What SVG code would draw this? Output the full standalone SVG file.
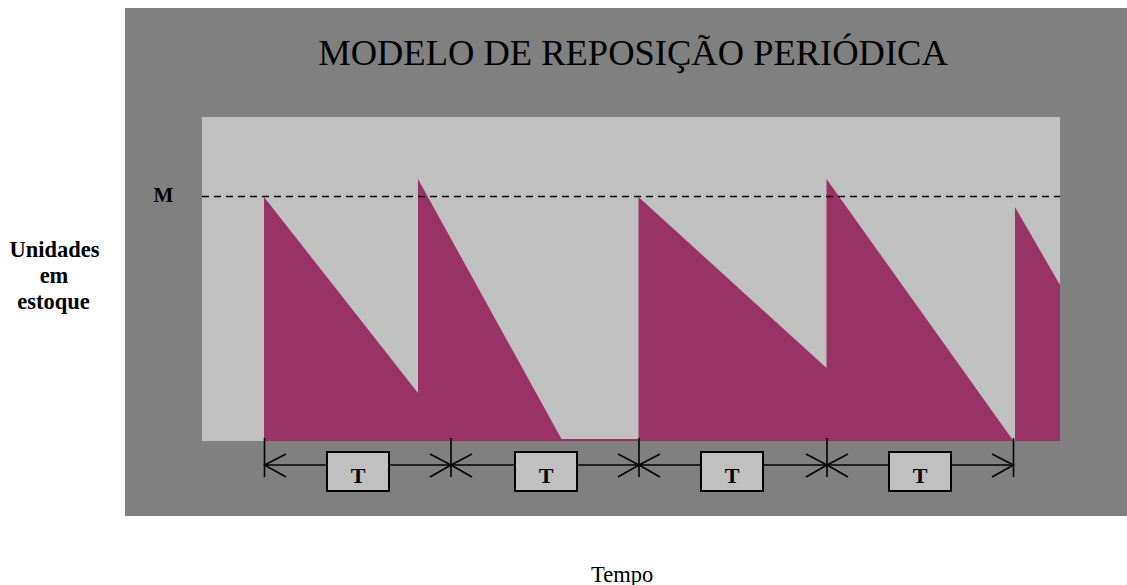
<svg xmlns="http://www.w3.org/2000/svg" width="1127" height="585" viewBox="0 0 1127 585">
<style>
.serif{font-family:"Liberation Serif","Times New Roman",serif;fill:#000}
.b{font-weight:bold}
.stock{fill:#993366}
.tick{stroke:#000;stroke-width:1.6;fill:none}
.tbox{fill:#c0c0c0;stroke:#000;stroke-width:2}
</style>
<rect width="1127" height="585" fill="#ffffff"/>
<rect id="frame" x="125" y="8" width="1002" height="508" fill="#808080"/>
<text id="title" class="serif" x="633" y="65" font-size="36.5" text-anchor="middle">MODELO DE REPOSIÇÃO PERIÓDICA</text>
<rect id="plot" x="202" y="117" width="858" height="324" fill="#c0c0c0"/>
<g id="stock">
<polygon class="stock" points="264,197 418,393 418,179 561.5,439 638.5,439 638.5,197 826.5,368 826.5,179 1013.5,441 264,441"/>
<polygon class="stock" points="1015,207 1060,285 1060,441 1015,441"/>
</g>
<line id="level-M" x1="202" y1="196.5" x2="1060" y2="196.5" stroke="#000" stroke-width="1.6" stroke-dasharray="7,5"/>
<text id="label-M" class="serif b" x="153.5" y="201.5" font-size="21">M</text>
<g id="connectors">
<line class="tick" x1="264" y1="465" x2="1014" y2="465"/>
<line class="tick" x1="264.5" y1="438" x2="264.5" y2="477"/>
<line class="tick" x1="451" y1="438" x2="451" y2="477"/>
<line class="tick" x1="639" y1="438" x2="639" y2="477"/>
<line class="tick" x1="827" y1="438" x2="827" y2="477"/>
<line class="tick" x1="1013.5" y1="438" x2="1013.5" y2="477"/>
<polyline class="tick" points="286,454 264.5,465 286,477"/>
<polyline class="tick" points="430,454 451,465 430,477"/>
<polyline class="tick" points="472,454 451,465 472,477"/>
<polyline class="tick" points="618,454 639,465 618,477"/>
<polyline class="tick" points="660,454 639,465 660,477"/>
<polyline class="tick" points="806,454 827,465 806,477"/>
<polyline class="tick" points="848,454 827,465 848,477"/>
<polyline class="tick" points="992,454 1013.5,465 992,477"/>
</g>
<g id="T1"><rect class="tbox" x="327" y="452" width="62" height="39"/><text class="serif b" x="358" y="483" font-size="22" text-anchor="middle">T</text></g>
<g id="T2"><rect class="tbox" x="515" y="452" width="62" height="39"/><text class="serif b" x="546" y="483" font-size="22" text-anchor="middle">T</text></g>
<g id="T3"><rect class="tbox" x="701" y="452" width="62" height="39"/><text class="serif b" x="732" y="483" font-size="22" text-anchor="middle">T</text></g>
<g id="T4"><rect class="tbox" x="889" y="452" width="62" height="39"/><text class="serif b" x="920" y="483" font-size="22" text-anchor="middle">T</text></g>
<g id="y-label" class="serif b" font-size="22.5" text-anchor="middle">
<text x="54.5" y="257">Unidades</text>
<text x="54" y="283">em</text>
<text x="53.5" y="309">estoque</text>
</g>
<text id="x-label" class="serif" x="591" y="582" font-size="22.5">Tempo</text>
</svg>
